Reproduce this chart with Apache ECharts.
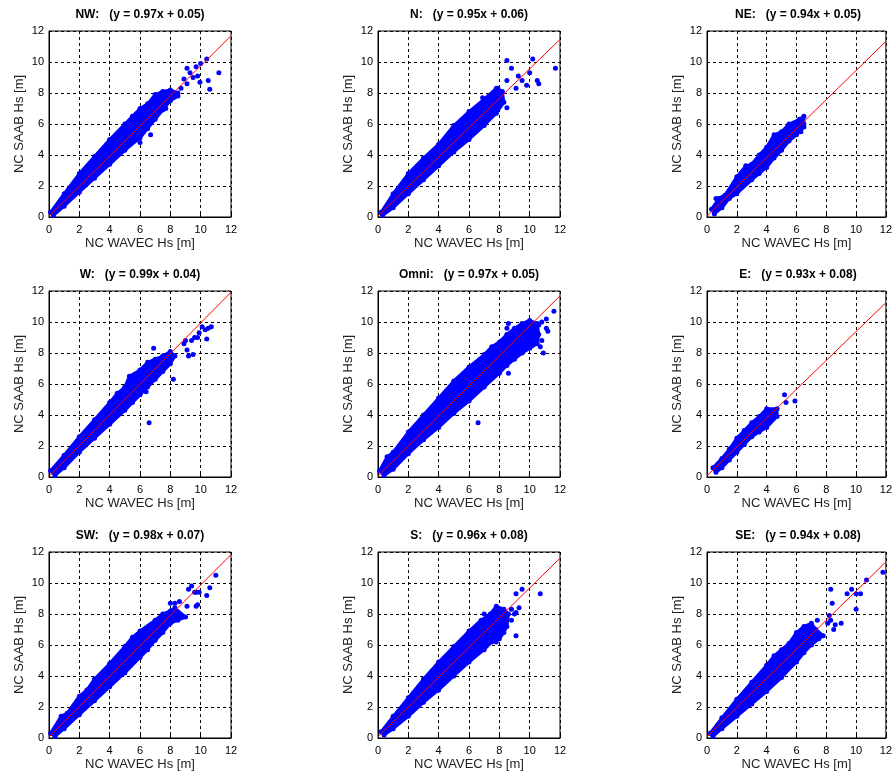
<!DOCTYPE html>
<html>
<head>
<meta charset="utf-8">
<script src="https://cdn.jsdelivr.net/npm/echarts@6/dist/echarts.min.js"></script>
<style>html,body{margin:0;padding:0;background:#fff}#c{width:895px;height:774px}</style>
</head>
<body>
<div id="c"></div>
<script>
// ---- data ----
const panelNames = ['NW', 'N', 'NE', 'W', 'Omni', 'E', 'SW', 'S', 'SE'];
const panelTitles = [
  'NW:   (y = 0.97x + 0.05)', 'N:   (y = 0.95x + 0.06)', 'NE:   (y = 0.94x + 0.05)',
  'W:   (y = 0.99x + 0.04)', 'Omni:   (y = 0.97x + 0.05)', 'E:   (y = 0.93x + 0.08)',
  'SW:   (y = 0.98x + 0.07)', 'S:   (y = 0.96x + 0.08)', 'SE:   (y = 0.94x + 0.08)'
];
const xAxisName = 'NC WAVEC Hs [m]';
const yAxisName = 'NC SAAB Hs [m]';
const tickValues = [0, 2, 4, 6, 8, 10, 12];
// regression line: value at x=0 and at x=12
const fitAt0 = [0.05, 0.06, 0.05, 0.04, 0.05, 0.08, 0.07, 0.08, 0.08];
const fitAt12 = [11.69, 11.46, 11.33, 11.92, 11.69, 11.24, 11.83, 11.60, 11.36];

// point cloud outlines (upper edge, lower edge) and isolated points
const nwUpper = [[0.1,0.3],[1,1.5],[2,2.8],[3,3.9],[4,5.0],[5,6.0],[5.5,6.5],[6,7.0],[6.5,7.3],[7,7.9],[7.5,8.1],[8,8.2],[8.5,8.0]];
const nwLower = [[0.3,0.1],[1,0.7],[2,1.6],[3,2.5],[4,3.4],[5,4.3],[6,5.1],[6.5,5.7],[7,6.3],[7.5,6.9],[8,7.5],[8.5,7.8]];
const nwOut = [[6.0,4.8],[9.1,9.6],[9.3,9.3],[9.7,9.7],[9.95,8.7],[10.5,8.8],[10.6,8.25],[11.2,9.3],[10.4,10.2],[9.1,8.6],[8.7,8.3],[9.5,9.0],[9.8,9.1],[8.9,8.9],[10.0,9.9],[6.7,5.3],[7.7,7.0]];

const nUpper = [[0.2,0.3],[1,1.5],[2,2.8],[3,3.8],[4,4.7],[5,5.9],[6,6.8],[7,7.6],[7.8,8.3],[8.2,8.1]];
const nLower = [[0.3,0.1],[1,0.6],[2,1.5],[3,2.4],[4,3.3],[5,4.2],[6,5.0],[7,5.9],[7.8,6.7],[8.3,7.4]];
const nOut = [[8.5,10.1],[8.8,9.6],[10.2,10.2],[11.7,9.6],[10.0,9.3],[8.5,8.8],[9.1,8.3],[9.8,8.5],[10.6,8.6],[10.5,8.8],[9.25,9.1],[8.5,7.05],[7.9,8.3],[6.9,7.7],[9.5,8.8]];

const neUpper = [[0.3,0.5],[0.8,1.2],[1.2,1.4],[2,2.6],[2.6,3.3],[3,3.4],[3.5,4.0],[4,4.5],[4.5,5.3],[5,5.5],[5.5,6.0],[6.2,6.3],[6.5,6.5]];
const neLower = [[0.5,0.2],[1,0.6],[1.5,1.2],[2,1.5],[3,2.4],[3.5,2.8],[4,3.2],[4.5,3.8],[5,4.3],[5.5,4.9],[6,5.3],[6.5,5.8]];
const neOut = [[6.3,5.5],[6.5,6.0],[0.6,1.2],[1.0,1.25],[5.7,5.4]];

const wUpper = [[0.1,0.4],[1,1.4],[2,2.6],[3,3.7],[4,4.8],[4.5,5.4],[5,5.8],[5.3,6.5],[6,6.9],[6.5,7.4],[7,7.6],[7.5,7.8],[8,8.1]];
const wLower = [[0.4,0.1],[1,0.6],[2,1.6],[3,2.5],[4,3.4],[5,4.3],[5.5,4.8],[6,5.3],[6.5,5.8],[7,6.3],[7.5,6.8],[8,7.3],[8.3,7.8]];
const wOut = [[6.9,8.3],[6.6,6.0],[6.4,5.5],[6.6,3.5],[8.2,6.3],[8.9,8.6],[9.0,8.8],[9.4,8.8],[9.1,8.2],[9.2,7.8],[9.5,7.9],[9.9,9.3],[10.1,9.7],[10.3,9.5],[10.4,8.9],[10.7,9.7],[9.8,9.0],[10.5,9.6],[9.6,9.0]];

const omniUpper = [[0.1,0.4],[0.6,1.3],[1,1.6],[2,2.9],[3,4.0],[4,5.1],[5,6.2],[6,7.1],[7,7.9],[7.5,8.4],[8,8.7],[8.5,9.2],[9,9.6],[9.5,9.9],[10,10.1],[10.5,9.9]];
const omniLower = [[0.4,0.1],[1,0.5],[2,1.5],[3,2.4],[4,3.2],[5,4.1],[6,4.9],[7,5.8],[8,6.7],[8.5,7.2],[9,7.6],[9.5,8.0],[10,8.3],[10.5,8.6],[10.6,9.2]];
const omniOut = [[6.6,3.5],[8.6,6.7],[8.5,9.6],[8.6,9.9],[8.2,8.8],[10.8,10.0],[11.1,10.2],[11.1,9.6],[11.6,10.7],[10.8,8.8],[10.9,8.0],[11.2,9.4],[10.6,9.8],[10.7,8.4]];

const eUpper = [[0.4,0.6],[1,1.2],[1.5,1.8],[2,2.5],[2.5,3.0],[3,3.5],[3.5,3.9],[4,4.4],[4.7,4.4]];
const eLower = [[0.6,0.3],[1,0.6],[1.5,1.1],[2,1.6],[2.5,2.1],[3,2.6],[3.5,2.9],[4,3.2],[4.7,3.9]];
const eOut = [[5.2,5.3],[5.3,4.8],[5.9,4.9]];

const swUpper = [[0.1,0.3],[0.8,1.4],[1.2,1.6],[2,2.7],[2.5,3.1],[3,3.8],[4,4.8],[5,5.9],[5.5,6.5],[6,6.9],[7,7.6],[7.5,8.0],[8,8.2],[8.3,8.4]];
const swLower = [[0.4,0.1],[1,0.6],[2,1.5],[3,2.4],[4,3.3],[5,4.2],[6,5.2],[6.5,5.7],[7,6.3],[7.5,6.8],[8,7.4],[8.5,7.6],[9,7.8]];
const swOut = [[8.3,8.7],[8.6,8.8],[9.1,8.5],[9.2,9.6],[9.4,9.8],[9.6,9.4],[9.8,8.6],[9.7,8.5],[10.4,9.2],[10.6,9.7],[11.0,10.5],[9.7,9.4],[8.0,8.7],[9.9,9.4]];

const sUpper = [[0.2,0.4],[1,1.4],[2,2.6],[3,3.8],[4,4.9],[5,5.9],[6,6.9],[6.8,7.6],[7.4,8.0],[7.8,8.5],[8.3,8.3],[8.6,8.0]];
const sLower = [[0.4,0.2],[1,0.6],[2,1.4],[3,2.3],[4,3.1],[5,4.0],[6,4.9],[7,5.7],[7.5,6.2],[8,6.4],[8.3,6.8],[8.5,7.2]];
const sOut = [[9.1,9.3],[9.5,9.6],[10.7,9.3],[9.3,8.4],[9.1,8.1],[8.8,8.3],[9.0,8.0],[8.8,7.6],[9.1,6.6],[7.8,6.2],[7.0,8.0]];

const seUpper = [[0.2,0.3],[1,1.3],[2,2.5],[3,3.6],[4,4.7],[4.5,5.3],[5,5.7],[5.5,6.1],[6,6.8],[6.5,7.2],[7,7.4],[7.3,7.0]];
const seLower = [[0.4,0.1],[1,0.6],[2,1.4],[3,2.2],[4,3.0],[5,3.9],[6,4.9],[6.5,5.5],[7,6.0],[7.5,6.4],[7.8,6.6]];
const seOut = [[8.3,7.6],[8.6,7.3],[8.2,7.9],[8.1,7.4],[8.5,7.0],[9.0,7.4],[8.4,8.7],[8.3,9.6],[9.4,9.3],[9.7,9.6],[10.0,9.3],[10.3,9.3],[10.0,8.3],[10.7,10.2],[11.8,10.7],[7.4,7.6]];

const cloudUpper = [nwUpper, nUpper, neUpper, wUpper, omniUpper, eUpper, swUpper, sUpper, seUpper];
const cloudLower = [nwLower, nLower, neLower, wLower, omniLower, eLower, swLower, sLower, seLower];
const cloudOut = [nwOut, nOut, neOut, wOut, omniOut, eOut, swOut, sOut, seOut];

// ---- layout ----
const colLeft = [49, 378, 707];
const rowTop = [31, 291, 552];
const plotW = 182, plotH = 186;
const FONT = 'Liberation Sans, Arial, sans-serif';
const BLUE = '#0000ff';

const grids = [], xAxes = [], yAxes = [], titles = [], series = [];
panelNames.forEach((name, i) => {
  const r = Math.floor(i / 3), c = i % 3;
  grids.push({left: colLeft[c], top: rowTop[r], width: plotW, height: plotH,
    show: true, borderColor: '#000', borderWidth: 1, backgroundColor: '#fff'});
  const axisCommon = {
    gridIndex: i, type: 'value', min: tickValues[0], max: tickValues[tickValues.length - 1], interval: 2,
    axisLine: {show: true, onZero: false, lineStyle: {color: '#000', width: 1}},
    axisTick: {show: true, inside: true, length: 3, lineStyle: {color: '#000'}},
    splitLine: {show: true, lineStyle: {color: '#000', type: [3, 3], width: 1}},
    axisLabel: {color: '#000', fontSize: 11, fontFamily: FONT},
    nameLocation: 'middle',
    nameTextStyle: {color: '#222', fontSize: 13, fontFamily: FONT}
  };
  xAxes.push(Object.assign({}, axisCommon, {name: xAxisName, nameGap: 20,
    axisLabel: Object.assign({}, axisCommon.axisLabel, {margin: 7})}));
  yAxes.push(Object.assign({}, axisCommon, {name: yAxisName, nameGap: 23,
    axisLabel: Object.assign({}, axisCommon.axisLabel, {margin: 5})}));
  titles.push({text: panelTitles[i], left: colLeft[c] + plotW / 2, top: rowTop[r] - 22,
    textAlign: 'center', padding: 0,
    textStyle: {fontSize: 12, fontWeight: 'bold', color: '#000', fontFamily: FONT}});

  const upper = cloudUpper[i], lower = cloudLower[i];
  series.push({
    type: 'custom', xAxisIndex: i, yAxisIndex: i, data: [[0, 0]], z: 2, silent: true, clip: true,
    renderItem: function (params, api) {
      const pts = upper.concat(lower.slice().reverse()).map(p => api.coord(p));
      return {type: 'polygon', shape: {points: pts}, style: {fill: BLUE, stroke: BLUE, lineWidth: 3, lineJoin: 'round'}};
    }
  });
  series.push({
    type: 'scatter', xAxisIndex: i, yAxisIndex: i, z: 3, silent: true,
    symbol: 'circle', symbolSize: 5, itemStyle: {color: BLUE, opacity: 1},
    data: upper.concat(lower, cloudOut[i])
  });
  series.push({
    type: 'line', xAxisIndex: i, yAxisIndex: i, z: 4, silent: true, symbol: 'none',
    lineStyle: {color: '#ff0000', width: 1},
    data: [[tickValues[0], fitAt0[i]], [tickValues[tickValues.length - 1], fitAt12[i]]]
  });
});

const chart = echarts.init(document.getElementById('c'), null, {renderer: 'canvas'});
chart.setOption({
  animation: false,
  backgroundColor: '#fff',
  title: titles,
  grid: grids,
  xAxis: xAxes,
  yAxis: yAxes,
  series: series
});
</script>
</body>
</html>
